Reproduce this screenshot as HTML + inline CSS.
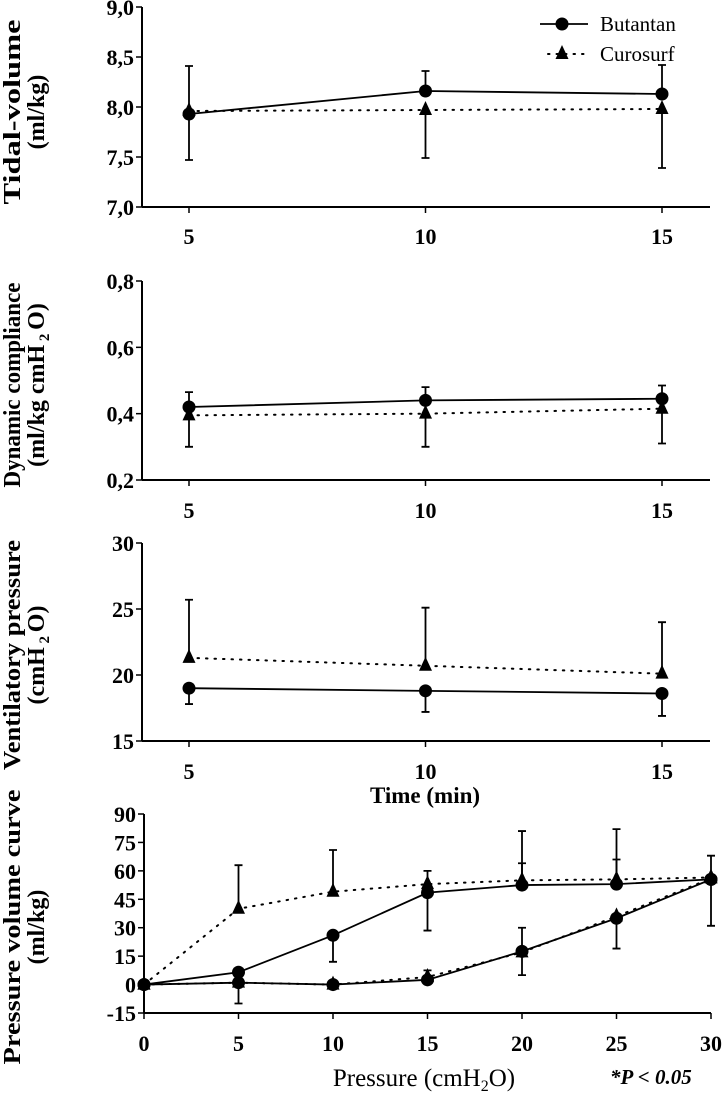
<!DOCTYPE html>
<html><head><meta charset="utf-8">
<style>
html,body{margin:0;padding:0;background:#fff;}
svg{display:block;font-family:"Liberation Serif",serif;}
</style></head>
<body>
<svg id="chart" width="723" height="1100" viewBox="0 0 723 1100"></svg>
<script>
// ---- Panel 1: Tidal volume ----
const timeCats = [5, 10, 15];
const tvButantan = [7.93, 8.16, 8.13];
const tvCurosurf = [7.96, 7.97, 7.98];
const tvErrHigh = [8.41, 8.36, 8.42];
const tvErrLow = [7.47, 7.49, 7.39];
const tvTicks = ["7,0","7,5","8,0","8,5","9,0"];
// ---- Panel 2: Dynamic compliance ----
const dcButantan = [0.42, 0.44, 0.445];
const dcCurosurf = [0.395, 0.40, 0.415];
const dcErrHigh = [0.465, 0.48, 0.485];
const dcErrLow = [0.30, 0.30, 0.31];
const dcTicks = ["0,2","0,4","0,6","0,8"];
// ---- Panel 3: Ventilatory pressure ----
const vpButantan = [19.0, 18.8, 18.6];
const vpCurosurf = [21.3, 20.7, 20.1];
const vpErrHigh = [25.7, 25.1, 24.0];
const vpErrLow = [17.8, 17.2, 16.9];
const vpTicks = ["15","20","25","30"];
// ---- Panel 4: Pressure volume curve ----
const pvCats = [0, 5, 10, 15, 20, 25, 30];
const pvButInfl = [0, 6.5, 26, 48.5, 52.5, 53, 55.5];
const pvButDefl = [0, 1, 0, 2.5, 17.5, 35, 55.5];
const pvCuroInfl = [0, 40, 49, 53, 55, 55.5, 56.5];
const pvCuroDefl = [0, 1, 0, 4, 17, 36, 56];
const pvCuroInflHigh = [0, 63, 71, 60, 81, 82, 68];
const pvButInflHigh = [0, 6.5, 26, 48.5, 64, 66, 55.5];
const pvButInflLow = [0, 6.5, 12, 28.5, 52.5, 53, 31];
const pvDeflHigh = [0, 1, 0, 7.5, 30, 35, 55.5];
const pvDeflLow = [0, -10, 0, 2.5, 5, 19, 55.5];
const pvTicks = ["-15","0","15","30","45","60","75","90"];

const svg = document.getElementById('chart');
const NS = "http://www.w3.org/2000/svg";
function el(tag, attrs, parent){
  const e = document.createElementNS(NS, tag);
  for (const k in attrs) e.setAttribute(k, attrs[k]);
  (parent||svg).appendChild(e);
  return e;
}
function lin(d0,d1,r0,r1){ return v => r0 + (v-d0)*(r1-r0)/(d1-d0); }

function axes(g, xs, ys, y0px, xLeft, xRight, yTop, tickVals, tickLabels, xTickVals, xTickLabels, labelY){
  let a = el('line',{x1:xLeft,y1:yTop,x2:xLeft,y2:y0px,stroke:'#000','stroke-width':2},g);
   
  let b = el('line',{x1:xLeft,y1:y0px,x2:xRight,y2:y0px,stroke:'#000','stroke-width':2},g);
   
  tickVals.forEach((v,i)=>{
    const y = ys(v);
    el('line',{x1:xLeft-6,y1:y,x2:xLeft,y2:y,stroke:'#000','stroke-width':1.5},g);
    const t = el('text',{x:xLeft-8,y:y+8,'text-anchor':'end','font-size':22,'font-weight':'bold'},g);
    t.textContent = tickLabels[i];
     
  });
  xTickVals.forEach((v,i)=>{
    const x = xs(v);
    el('line',{x1:x,y1:y0px,x2:x,y2:y0px+6,stroke:'#000','stroke-width':1.5},g);
    const t = el('text',{x:x,y:labelY,'text-anchor':'middle','font-size':22,'font-weight':'bold'},g);
    t.textContent = xTickLabels[i];
     
  });
}
function series(g, xs, ys, cats, vals, dotted, marker, name){
  const pts = cats.map((c,i)=>xs(c)+','+ys(vals[i])).join(' ');
  const p = el('polyline',{points:pts,fill:'none',stroke:'#000','stroke-width':dotted?2:1.8,'stroke-dasharray':dotted?'1.5 7':'none','stroke-linecap':'round'},g);
   
  cats.forEach((c,i)=>{
    const x = xs(c), y = ys(vals[i]);
    let m;
    if (marker==='circle') m = el('circle',{cx:x,cy:y,r:6.5,fill:'#000'},g);
    else m = el('polygon',{points:`${x},${y-9} ${x-6.5},${y+5} ${x+6.5},${y+5}`,fill:'#000'},g);
     
  });
}
function errbars(g, xs, ys, cats, from, to, name){
  cats.forEach((c,i)=>{
    if (from[i]===to[i]) return;
    const x = xs(c), y1 = ys(from[i]), y2 = ys(to[i]);
    const e = el('path',{d:`M${x},${y1}L${x},${y2}M${x-4},${y2}L${x+4},${y2}`,stroke:'#000','stroke-width':1.8,fill:'none'},g);
     
  });
}
function ytitle(cx1, cx2, cy, l1, len1, l2html, len2, name){
  const g = el('g',{});  
  const a = el('text',{transform:`translate(${cx1},${cy}) rotate(-90)`,'text-anchor':'middle','font-size':24,'font-weight':'bold',textLength:len1,lengthAdjust:'spacingAndGlyphs'},g);
  a.textContent = l1;
  const b = el('text',{transform:`translate(${cx2},${cy}) rotate(-90)`,'text-anchor':'middle','font-size':24,'font-weight':'bold'},g);
  b.innerHTML = l2html;
}

// Panel 1
{
  const g = el('g',{});  
  const xs = lin(5,15,189,662), ys = lin(7,9,207,7);
  axes(g,xs,ys,207,142,710,7,[7,7.5,8,8.5,9],tvTicks,timeCats,timeCats.map(String),244);
  errbars(g,xs,ys,timeCats,tvButantan,tvErrHigh,'butantan-error-bar');
  errbars(g,xs,ys,timeCats,tvCurosurf,tvErrLow,'curosurf-error-bar');
  series(g,xs,ys,timeCats,tvCurosurf,true,'tri','curosurf');
  series(g,xs,ys,timeCats,tvButantan,false,'circle','butantan');
  const lg = el('g',{},g);  
  el('line',{x1:540,y1:24,x2:588,y2:24,stroke:'#000','stroke-width':1.8},lg);
  el('circle',{cx:562,cy:24,r:6.5,fill:'#000'},lg);
  let t1 = el('text',{x:600,y:31,'font-size':21},lg); t1.textContent='Butantan';
   
  el('line',{x1:548,y1:54,x2:588,y2:54,stroke:'#000','stroke-width':2,'stroke-dasharray':'1.5 7','stroke-linecap':'round'},lg);
  el('polygon',{points:'562,45 555.5,59 568.5,59',fill:'#000'},lg);
  let t2 = el('text',{x:600,y:61,'font-size':21},lg); t2.textContent='Curosurf';
   
  ytitle(20,44,112,'Tidal-volume',185,'(ml/kg)',75,'y-axis-title-tidal');
}
// Panel 2
{
  const g = el('g',{});  
  const xs = lin(5,15,189,662), ys = lin(0.2,0.8,480,281);
  axes(g,xs,ys,480,142,710,281,[0.2,0.4,0.6,0.8],dcTicks,timeCats,timeCats.map(String),518);
  errbars(g,xs,ys,timeCats,dcButantan,dcErrHigh,'butantan-error-bar');
  errbars(g,xs,ys,timeCats,dcCurosurf,dcErrLow,'curosurf-error-bar');
  series(g,xs,ys,timeCats,dcCurosurf,true,'tri','curosurf');
  series(g,xs,ys,timeCats,dcButantan,false,'circle','butantan');
  ytitle(20,44,385,'Dynamic compliance',205,'(ml/kg cmH<tspan font-size="15" dy="5"> 2 </tspan><tspan dy="-5">O)</tspan>',0,'y-axis-title-compliance');
}
// Panel 3
{
  const g = el('g',{});  
  const xs = lin(5,15,189,662), ys = lin(15,30,741,543);
  axes(g,xs,ys,741,142,710,543,[15,20,25,30],vpTicks,timeCats,timeCats.map(String),779);
  errbars(g,xs,ys,timeCats,vpCurosurf,vpErrHigh,'curosurf-error-bar');
  errbars(g,xs,ys,timeCats,vpButantan,vpErrLow,'butantan-error-bar');
  series(g,xs,ys,timeCats,vpCurosurf,true,'tri','curosurf');
  series(g,xs,ys,timeCats,vpButantan,false,'circle','butantan');
  let t = el('text',{x:425,y:803,'text-anchor':'middle','font-size':23,'font-weight':'bold'},g); t.textContent='Time (min)';
   
  ytitle(20,44,655,'Ventilatory pressure',230,'(cmH<tspan font-size="15" dy="5"> 2 </tspan><tspan dy="-5">O)</tspan>',0,'y-axis-title-ventilatory');
}
// Panel 4
{
  const g = el('g',{});  
  const xs = lin(0,30,144,711), ys = lin(-15,90,1013,814);
  axes(g,xs,ys,1013,144,711,814,[-15,0,15,30,45,60,75,90],pvTicks,pvCats,pvCats.map(String),1051);
  errbars(g,xs,ys,pvCats,pvCuroInfl,pvCuroInflHigh,'curosurf-error-bar');
  errbars(g,xs,ys,pvCats,pvButInfl,pvButInflHigh,'butantan-inflation-error-bar');
  errbars(g,xs,ys,pvCats,pvButInfl,pvButInflLow,'butantan-inflation-error-bar');
  errbars(g,xs,ys,pvCats,pvButDefl,pvDeflHigh,'deflation-error-bar');
  errbars(g,xs,ys,pvCats,pvButDefl,pvDeflLow,'deflation-error-bar');
  series(g,xs,ys,pvCats,pvCuroInfl,true,'tri','curosurf-inflation');
  series(g,xs,ys,pvCats,pvCuroDefl,true,'tri','curosurf-deflation');
  series(g,xs,ys,pvCats,pvButInfl,false,'circle','butantan-inflation');
  series(g,xs,ys,pvCats,pvButDefl,false,'circle','butantan-deflation');
  let t = el('text',{x:424,y:1086,'text-anchor':'middle','font-size':25},g);
  t.innerHTML='Pressure (cmH<tspan font-size="16" dy="5">2</tspan><tspan dy="-5">O)</tspan>';
   
  let s = el('text',{x:610,y:1084,'font-size':21,'font-weight':'bold','font-style':'italic'},g);
  s.textContent='*P < 0.05';
   
  ytitle(20,44,927,'Pressure volume curve',275,'(ml/kg)',0,'y-axis-title-pv');
}
</script>
</body></html>
